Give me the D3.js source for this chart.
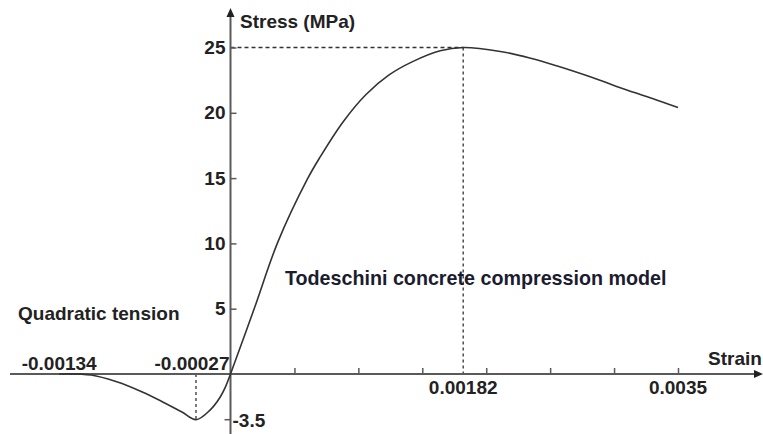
<!DOCTYPE html>
<html>
<head>
<meta charset="utf-8">
<script src="https://cdn.jsdelivr.net/npm/d3@7"></script>
<style>
  html, body { margin: 0; padding: 0; background: #fff; }
  svg { display: block; }
  text { font-family: "Liberation Sans", Arial, sans-serif; font-weight: bold; }
</style>
</head>
<body>
<svg id="chart" width="763" height="434"></svg>
<script>
// ---- data ----
const strain = [-0.00134, -0.00109, -0.00089, -0.00069, -0.00053, -0.00038, -0.00027,
                -0.00016, -0.00008, -0.00004, 0,
                0.00019, 0.00037, 0.00060, 0.00070, 0.00088, 0.00106, 0.00124, 0.00142,
                0.00164, 0.00182, 0.00211, 0.00234, 0.00255, 0.00283, 0.00310, 0.00330, 0.00350];
const stress = [0, -0.08, -0.6, -1.38, -2.14, -2.91, -3.5,
                -2.76, -1.76, -1.0, 0,
                5.13, 10.1, 14.9, 16.6, 19.3, 21.4, 22.9, 23.9,
                24.75, 25, 24.7, 24.2, 23.6, 22.7, 21.75, 21.1, 20.4];
const xTicks = [0.0005, 0.001, 0.0015, 0.002, 0.0025, 0.003, 0.0035];
const yTicks = [5, 10, 15, 20, 25];
const xLabelValues = [0.00182, 0.0035];
const xLabelTexts = ["0.00182", "0.0035"];
const negLabelValues = [-0.00134, -0.00027];
const negLabelTexts = ["-0.00134", "-0.00027"];
const peakStrain = 0.00182, peakStress = 25;
const tensStrain = -0.00027, tensStress = -3.5;
const minLabel = "-3.5";

const svg = d3.select("#chart");
const x = d3.scaleLinear().domain([0, 0.0035]).range([230.5, 678]);
const y = d3.scaleLinear().domain([0, 25]).range([374, 47.5]);
const axisColor = "#5a5a5a";
const ink = "#222";
const fs = 19;

// dashed guide lines
svg.append("line").attr("x1", x(0)).attr("x2", x(peakStrain))
  .attr("y1", y(peakStress)).attr("y2", y(peakStress))
  .attr("stroke", "#333").attr("stroke-width", 1.3).attr("stroke-dasharray", "4,3");
svg.append("line").attr("x1", x(peakStrain)).attr("x2", x(peakStrain))
  .attr("y1", y(peakStress)).attr("y2", y(0))
  .attr("stroke", "#333").attr("stroke-width", 1.3).attr("stroke-dasharray", "3,3");
svg.append("line").attr("x1", x(tensStrain)).attr("x2", x(tensStrain))
  .attr("y1", y(0)).attr("y2", y(tensStress))
  .attr("stroke", "#333").attr("stroke-width", 1.3).attr("stroke-dasharray", "3,3");

// x axis line + ticks
svg.append("line").attr("x1", 10).attr("x2", 756).attr("y1", y(0)).attr("y2", y(0))
  .attr("stroke", axisColor).attr("stroke-width", 2);
const xAxis = d3.axisBottom(x).tickValues(xTicks).tickSizeInner(-6).tickSizeOuter(0).tickFormat("");
const gx = svg.append("g").attr("transform", `translate(0,${y(0)})`).call(xAxis);
gx.select(".domain").remove();
gx.selectAll(".tick line").attr("stroke", axisColor).attr("stroke-width", 1.5);
svg.append("path").attr("d", `M763,${y(0)} L754,${y(0)-4} L754,${y(0)+4} Z`).attr("fill", ink);

// y axis line + ticks
svg.append("line").attr("x1", x(0)).attr("x2", x(0)).attr("y1", 434).attr("y2", 15)
  .attr("stroke", axisColor).attr("stroke-width", 2);
const yAxis = d3.axisLeft(y).tickValues(yTicks).tickSizeInner(-6).tickSizeOuter(0).tickPadding(5).tickFormat(d3.format("d"));
const gy = svg.append("g").attr("transform", `translate(${x(0)},0)`).call(yAxis);
gy.select(".domain").remove();
gy.selectAll(".tick line").attr("stroke", axisColor).attr("stroke-width", 1.5);
gy.selectAll(".tick text").attr("font-size", fs).attr("fill", ink)
  .attr("font-family", "Liberation Sans, Arial, sans-serif").attr("font-weight", "bold");
svg.append("path").attr("d", `M${x(0)},8 L${x(0)-4},17 L${x(0)+4},17 Z`).attr("fill", ink);

// -3.5 tick
svg.append("line").attr("x1", x(0) - 6).attr("x2", x(0)).attr("y1", y(tensStress)).attr("y2", y(tensStress))
  .attr("stroke", axisColor).attr("stroke-width", 1.5);
svg.append("text").attr("x", x(0) + 2).attr("y", y(tensStress) + 7)
  .attr("font-size", fs).attr("fill", ink).text(minLabel);

// x labels
svg.selectAll(".xl").data(xLabelValues).enter().append("text")
  .attr("x", d => x(d)).attr("y", y(0) + 20).attr("text-anchor", "middle")
  .attr("font-size", fs).attr("fill", ink).text((d, i) => xLabelTexts[i]);
svg.selectAll(".nl").data(negLabelValues).enter().append("text")
  .attr("x", (d, i) => i === 0 ? x(d) : x(0) - 1).attr("y", y(0) - 4)
  .attr("text-anchor", (d, i) => i === 0 ? "middle" : "end")
  .attr("font-size", fs).attr("fill", ink).text((d, i) => negLabelTexts[i]);

// curve
const pts = strain.map((s, i) => [s, stress[i]]);
const line = d3.line().x(d => x(d[0])).y(d => y(d[1])).curve(d3.curveCatmullRom.alpha(0.5));
svg.append("path").datum(pts).attr("d", line)
  .attr("fill", "none").attr("stroke", "#333").attr("stroke-width", 1.6);

// annotations
svg.append("text").attr("x", 240).attr("y", 28).attr("font-size", fs).attr("fill", ink).text("Stress (MPa)");
svg.append("text").attr("x", 708).attr("y", 365).attr("font-size", fs).attr("fill", ink).text("Strain");
svg.append("text").attr("x", 18).attr("y", 320).attr("font-size", fs).attr("fill", ink).text("Quadratic tension");
svg.append("text").attr("x", 285).attr("y", 285).attr("font-size", 19.7).attr("fill", "#1c1c30").text("Todeschini concrete compression model");
</script>
</body>
</html>
